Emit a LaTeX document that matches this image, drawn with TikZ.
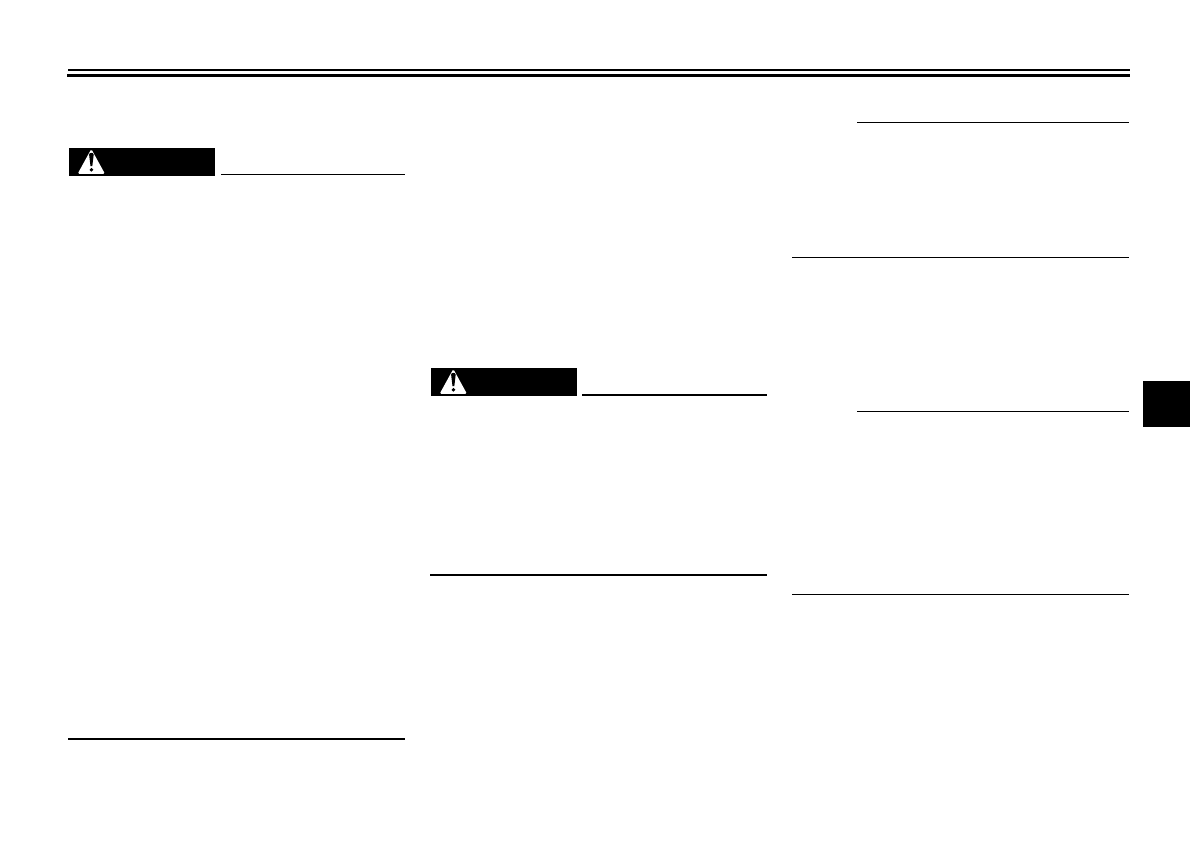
\documentclass[tikz,border=0pt]{standalone}
\tikzset{
  rulethin/.style={line width=1.2pt,black},
  rulethick/.style={line width=2pt,black},
  warnicon/.pic={
    \fill[black] (0,0) rectangle (146,28);
    \fill[white,rounded corners=1.5pt] (22.3,1) -- (8.6,25.9) -- (36,25.9) -- cycle;
    \fill[black] (20.1,6.5) .. controls (20.3,4.3) and (24.5,4.3) .. (24.7,6.5) -- (23.3,18.2) -- (21.5,18.2) -- cycle;
    \fill[black] (22.4,21.8) circle (1.9);
  }
}
\begin{document}
\begin{tikzpicture}[x=1pt,y=-1pt]
\useasboundingbox (0,0) rectangle (1190,840);
\fill[white] (0,0) rectangle (1190,840);
% header double rule
\fill[black] (68,69) rectangle (1130,71);
\fill[black] (67,74) rectangle (1130,77);
% warning banners
\pic at (69,148) {warnicon};
\pic at (431,368) {warnicon};
% column rules
\draw[rulethin] (221,174.4) -- (405,174.4);
\draw[rulethick] (68,739) -- (405,739);
\draw[rulethick] (582,394.8) -- (767,394.8);
\draw[rulethick] (430,575) -- (767,575);
\draw[rulethin] (857,122.3) -- (1129,122.3);
\draw[rulethin] (792,257.3) -- (1129,257.3);
\draw[rulethin] (857,411.3) -- (1129,411.3);
\draw[rulethin] (792,594.3) -- (1129,594.3);
% thumb tab
\fill[black] (1143,381) rectangle (1190,427);
\end{tikzpicture}
\end{document}
